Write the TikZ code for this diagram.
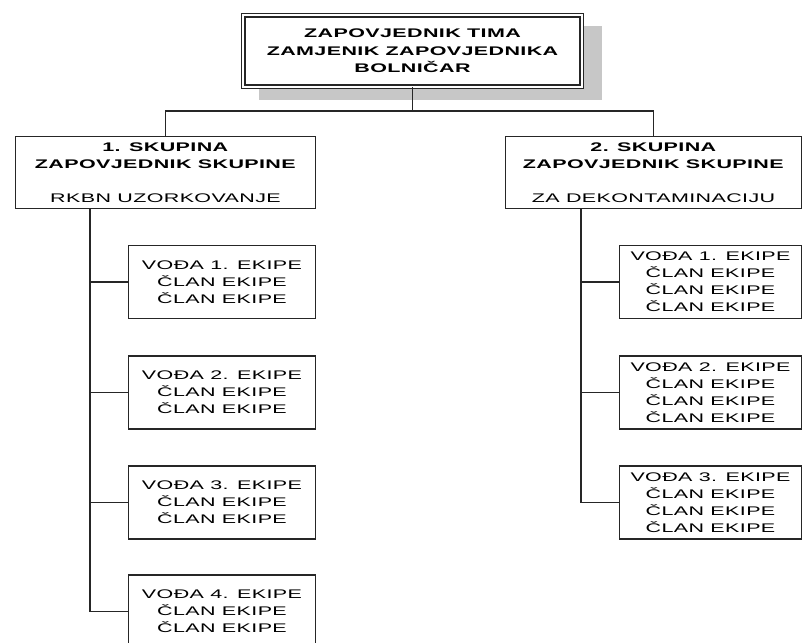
\documentclass[tikz,border=0pt]{standalone}
\usepackage{fontspec}
\setmainfont[FakeStretch=1.72,LetterSpace=3]{Liberation Sans}

\begin{document}
\begin{tikzpicture}[x=1pt,y=-1pt,
    box/.style={draw=black!85,line width=1.3pt,fill=white,inner sep=0,align=center,
      font=\fontsize{12.5}{17}\selectfont},
    topbox/.style={box,double,double distance=2.2pt,line width=1.3pt,font=\bfseries\fontsize{12.5}{17.5}\selectfont},
    groupbox/.style={box,minimum height=72pt,font=\fontsize{12.5}{16.8}\selectfont},
    teambox/.style={box,minimum height=73pt},
    link/.style={draw=black!85,line width=1.3pt}]

\useasboundingbox (0,0) rectangle (802,642);

\fill[black!22] (259,26) rectangle (602,100);
\node[topbox,minimum width=338.4pt,minimum height=71.4pt] (top) at (412.5,51)
  {ZAPOVJEDNIK TIMA\\ZAMJENIK ZAPOVJEDNIKA\\BOLNIČAR};

\node[groupbox,minimum width=300pt] (g1) at (165.5,172.5)
  {\textbf{1. SKUPINA}\\\textbf{ZAPOVJEDNIK SKUPINE}\\[16.8pt]RKBN UZORKOVANJE};
\node[groupbox,minimum width=296pt] (g2) at (653.5,172.5)
  {\textbf{2. SKUPINA}\\\textbf{ZAPOVJEDNIK SKUPINE}\\[16.8pt]ZA DEKONTAMINACIJU};

\draw[link] (top.south) -- ++(0,23.5) coordinate (bus);
\draw[link] (g1.north) |- (bus) -| (g2.north);

\node[teambox,minimum width=187pt] (l1) at (222,282) {VOĐA 1. EKIPE\\ČLAN EKIPE\\ČLAN EKIPE};
\node[teambox,minimum width=187pt] (l2) at (222,392.5) {VOĐA 2. EKIPE\\ČLAN EKIPE\\ČLAN EKIPE};
\node[teambox,minimum width=187pt] (l3) at (222,502.5) {VOĐA 3. EKIPE\\ČLAN EKIPE\\ČLAN EKIPE};
\node[teambox,minimum width=187pt] (l4) at (222,611.5) {VOĐA 4. EKIPE\\ČLAN EKIPE\\ČLAN EKIPE};

\coordinate (t1) at (90,208.5);
\draw[link] (t1) |- (l4.west);
\draw[link] (t1 |- l1.west) -- (l1.west);
\draw[link] (t1 |- l2.west) -- (l2.west);
\draw[link] (t1 |- l3.west) -- (l3.west);

\node[teambox,minimum width=182pt] (r1) at (710.5,282) {VOĐA 1. EKIPE\\ČLAN EKIPE\\ČLAN EKIPE\\ČLAN EKIPE};
\node[teambox,minimum width=182pt] (r2) at (710.5,392.5) {VOĐA 2. EKIPE\\ČLAN EKIPE\\ČLAN EKIPE\\ČLAN EKIPE};
\node[teambox,minimum width=182pt] (r3) at (710.5,502.5) {VOĐA 3. EKIPE\\ČLAN EKIPE\\ČLAN EKIPE\\ČLAN EKIPE};

\coordinate (t2) at (581,208.5);
\draw[link] (t2) |- (r3.west);
\draw[link] (t2 |- r1.west) -- (r1.west);
\draw[link] (t2 |- r2.west) -- (r2.west);

\end{tikzpicture}
\end{document}
